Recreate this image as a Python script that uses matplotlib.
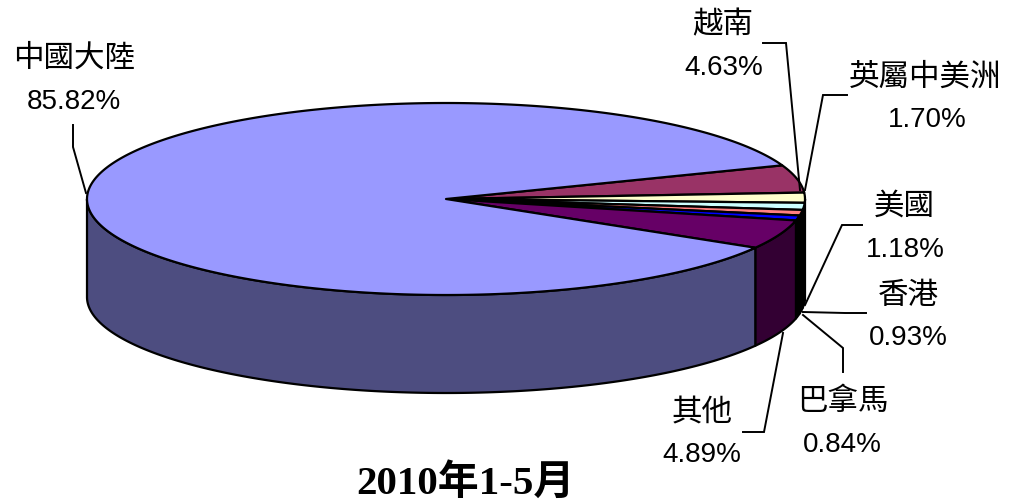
import numpy as np
import matplotlib
matplotlib.use('Agg')
import matplotlib.pyplot as plt
from matplotlib.patches import Polygon

names = ['中國大陸', '越南', '英屬中美洲', '美國', '香港', '巴拿馬', '其他']
shares = [85.82, 4.63, 1.70, 1.18, 0.93, 0.84, 4.89]
top_colors = ['#9999FF', '#993366', '#FFFFCC', '#CCFFFF', '#FF8080', '#0000FF', '#660066']
side_colors = ['#4D4D80', '#4D1A33', '#000000', '#000000', '#000000', '#000000', '#330033']

# label centres (name x, name y, value x, value y)
label_pos = [(74, 58, 74, 102), (723, 25, 724, 68), (925, 77, 927, 120),
             (904, 206, 905, 250), (908, 296, 908, 338), (843, 401, 842, 445),
             (702, 413, 702, 455)]
leaders = [[(73, 125), (73, 147), (86, 193)],
           [(763, 43), (786, 43), (800, 190)],
           [(847, 95), (823, 95), (805, 190)],
           [(862, 225), (842, 225), (805, 305)],
           [(866, 313), (845, 313), (803, 312)],
           [(843, 372), (843, 348), (803, 315)],
           [(743, 432), (764, 432), (783, 333)]]

cx, cy = 446, 199
rx, ry = 359, 96
depth = 98
start = 20.5


def arc(a0, a1, dy=0):
    t = np.radians(np.linspace(a0, a1, max(int(abs(a1 - a0) * 2), 2)))
    return np.column_stack([cx + rx * np.cos(t), cy - ry * np.sin(t) + dy])


# clockwise from Vietnam, China last
order = [1, 2, 3, 4, 5, 6, 0]
bounds = start - np.cumsum([0] + [shares[i] * 3.6 for i in order])

fig = plt.figure(figsize=(10.09, 5.04), dpi=100)
ax = fig.add_axes([0, 0, 1, 1])
ax.set_xlim(0, 1009)
ax.set_ylim(504, 0)
ax.axis('off')

# side walls: only the front half of the rim shows
for k, i in enumerate(order):
    a0 = min(bounds[k], 0)
    a1 = max(bounds[k + 1], -180)
    if a0 <= a1:
        continue
    pts = np.vstack([arc(a0, a1), arc(a1, a0, depth)])
    ax.add_patch(Polygon(pts, fc=side_colors[i], ec='black', lw=1.6, joinstyle='round'))

# top faces
for k, i in enumerate(order):
    pts = np.vstack([[(cx, cy)], arc(bounds[k], bounds[k + 1])])
    ax.add_patch(Polygon(pts, fc=top_colors[i], ec='black', lw=1.6, joinstyle='round'))

for line in leaders:
    xs, ys = zip(*line)
    ax.plot(xs, ys, color='black', lw=1.4, solid_joinstyle='miter')

for i, name in enumerate(names):
    nx, ny, vx, vy = label_pos[i]
    ax.text(nx, ny, name, ha='center', va='center', fontsize=22,
            family=['Noto Sans CJK TC', 'DejaVu Sans'], color='black')
    ax.text(vx, vy, '%.2f%%' % shares[i], ha='center', va='center', fontsize=20,
            family='Liberation Sans', color='black')

ax.text(465, 483, '2010年1-5月', ha='center', va='center', fontsize=29.5, fontweight='bold',
        family=['Liberation Serif', 'Noto Sans CJK TC'], color='black')

fig.savefig('out.png', dpi=100)
